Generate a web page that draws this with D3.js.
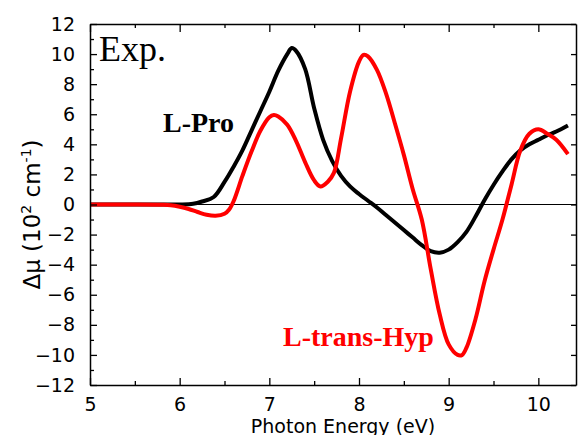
<!DOCTYPE html>
<html>
<head>
<meta charset="utf-8">
<script src="https://cdn.jsdelivr.net/npm/d3@7"></script>
<style>
  body { margin: 0; background: #fff; }
  #grafico { width: 578px; height: 435px; }
  .tick text { font-family: "DejaVu Sans", Verdana, sans-serif; }
</style>
</head>
<body>
<div id="grafico"></div>
<script>
// L-Pro (black) : photon energy (eV) / delta mu (10^2 cm^-1)
var proE = [5.0, 5.5, 6.0, 6.15, 6.25, 6.38, 6.5, 6.6, 6.7, 6.8, 6.9, 7.0, 7.1, 7.2, 7.25, 7.3, 7.4, 7.5, 7.6, 7.7, 7.8, 7.9, 8.0, 8.1, 8.2, 8.3, 8.4, 8.5, 8.6, 8.7, 8.8, 8.9, 9.0, 9.1, 9.2, 9.3, 9.4, 9.5, 9.6, 9.7, 9.8, 9.9, 10.0, 10.1, 10.2, 10.33];
var proMu = [0, 0, 0, 0.05, 0.2, 0.5, 1.5, 2.5, 3.6, 4.9, 6.2, 7.5, 8.9, 10.0, 10.4, 10.2, 9.0, 6.4, 4.3, 2.9, 1.9, 1.2, 0.7, 0.25, -0.2, -0.7, -1.2, -1.7, -2.2, -2.7, -3.1, -3.2, -3.0, -2.5, -1.8, -0.8, 0.3, 1.3, 2.2, 3.0, 3.6, 4.0, 4.3, 4.6, 4.85, 5.25];

// L-trans-Hyp (red)
var hypE = [5.0, 5.5, 5.8, 5.9, 6.0, 6.1, 6.2, 6.3, 6.4, 6.5, 6.55, 6.6, 6.7, 6.8, 6.9, 7.0, 7.05, 7.1, 7.2, 7.3, 7.4, 7.5, 7.57, 7.65, 7.72, 7.8, 7.9, 8.0, 8.05, 8.1, 8.2, 8.3, 8.4, 8.5, 8.6, 8.7, 8.8, 8.9, 9.0, 9.1, 9.15, 9.2, 9.3, 9.4, 9.5, 9.6, 9.7, 9.8, 9.9, 10.0, 10.1, 10.2, 10.33];
var hypMu = [0, 0, -0.02, -0.05, -0.15, -0.3, -0.5, -0.68, -0.75, -0.62, -0.35, 0.2, 1.9, 3.5, 4.9, 5.8, 5.95, 5.85, 5.3, 4.2, 2.8, 1.6, 1.2, 1.5, 2.1, 4.4, 7.5, 9.5, 9.95, 9.85, 8.95, 7.4, 5.4, 3.3, 1.0, -1.0, -4.3, -7.3, -9.3, -10.0, -10.0, -9.5, -7.6, -5.1, -3.0, -1.0, 1.3, 3.6, 4.7, 5.0, 4.7, 4.3, 3.35];

var xTicks = [5, 6, 7, 8, 9, 10];
var yTicks = [-12, -10, -8, -6, -4, -2, 0, 2, 4, 6, 8, 10, 12];

function monta_grafico() {
	var margin = {top: 24, right: 2, bottom: 50, left: 90},
		width = 578 - margin.left - margin.right,
		height = 435 - margin.top - margin.bottom;

	var svg = d3.select("#grafico").append("svg")
		.attr("width", 578)
		.attr("height", 435)
	  .append("g")
		.attr("transform", "translate(" + margin.left + "," + margin.top + ")");

	var x = d3.scaleLinear().domain([5, 10.42]).range([0, width]);
	var y = d3.scaleLinear().domain([-12, 12]).range([height, 0]);

	var line = d3.line()
		.x(function(d) { return x(d[0]); })
		.y(function(d) { return y(d[1]); })
		.curve(d3.curveCatmullRom);

	// zero line
	svg.append("line")
		.attr("x1", 0).attr("x2", width)
		.attr("y1", y(0)).attr("y2", y(0))
		.attr("stroke", "#000").attr("stroke-width", 1.2);

	var pro = proE.map(function(e, i) { return [e, proMu[i]]; });
	var hyp = hypE.map(function(e, i) { return [e, hypMu[i]]; });

	svg.append("path").datum(pro)
		.attr("fill", "none").attr("stroke", "#000").attr("stroke-width", 4)
		.attr("stroke-linejoin", "round")
		.attr("d", line);
	svg.append("path").datum(hyp)
		.attr("fill", "none").attr("stroke", "#ff0000").attr("stroke-width", 4)
		.attr("stroke-linejoin", "round")
		.attr("d", line);

	// minor ticks
	var xMinor = d3.range(5.5, 10.42, 1);
	var yMinor = d3.range(-11, 12, 2);

	// bottom axis
	svg.append("g")
		.attr("transform", "translate(0," + height + ")")
		.call(d3.axisBottom(x).tickValues(xTicks).tickSizeInner(-7).tickSizeOuter(0).tickPadding(13)
			.tickFormat(d3.format("d")))
		.call(function(g) { g.selectAll("text").style("font-size", "19px").attr("fill", "#000"); });
	svg.append("g")
		.attr("transform", "translate(0," + height + ")")
		.call(d3.axisBottom(x).tickValues(xMinor).tickSize(-4).tickFormat(""))
		.call(function(g) { g.select(".domain").remove(); });

	// top axis
	svg.append("g")
		.call(d3.axisTop(x).tickValues(xTicks).tickSizeInner(-8).tickSizeOuter(0).tickFormat(""));
	svg.append("g")
		.call(d3.axisTop(x).tickValues(xMinor).tickSize(-4).tickFormat(""))
		.call(function(g) { g.select(".domain").remove(); });

	// left axis
	svg.append("g")
		.call(d3.axisLeft(y).tickValues(yTicks).tickSizeInner(-7).tickSizeOuter(0).tickPadding(15))
		.call(function(g) { g.selectAll("text").style("font-size", "19px").attr("fill", "#000"); });
	svg.append("g")
		.call(d3.axisLeft(y).tickValues(yMinor).tickSize(-4).tickFormat(""))
		.call(function(g) { g.select(".domain").remove(); });

	// right axis
	svg.append("g")
		.attr("transform", "translate(" + width + ",0)")
		.call(d3.axisRight(y).tickValues(yTicks).tickSizeInner(-5).tickSizeOuter(0).tickFormat(""));

	svg.selectAll(".domain").attr("stroke-width", 1.5);
	svg.selectAll(".tick line").attr("stroke-width", 1.3);

	// labels
	svg.append("text")
		.attr("x", 9).attr("y", 37)
		.style("font-family", "'Liberation Serif', 'Times New Roman', serif")
		.style("font-size", "36px")
		.text("Exp.");

	svg.append("text")
		.attr("x", 73).attr("y", 108)
		.style("font-family", "'Liberation Serif', 'Times New Roman', serif")
		.style("font-size", "28px").style("font-weight", "bold")
		.text("L-Pro");

	svg.append("text")
		.attr("x", 193).attr("y", 322)
		.style("font-family", "'Liberation Serif', 'Times New Roman', serif")
		.style("font-size", "28px").style("font-weight", "bold")
		.attr("fill", "#ff0000")
		.text("L-trans-Hyp");

	// axis titles
	svg.append("text")
		.attr("x", 253).attr("y", height + 48)
		.attr("text-anchor", "middle")
		.style("font-family", "'DejaVu Sans', Verdana, sans-serif")
		.style("font-size", "19px")
		.text("Photon Energy (eV)");

	var yt = svg.append("text")
		.attr("transform", "translate(-50," + (height / 2 + 10) + ") rotate(-90)")
		.attr("text-anchor", "middle")
		.style("font-family", "'DejaVu Sans', Verdana, sans-serif")
		.style("font-size", "23px");
	yt.append("tspan").text("\u0394\u03bc (10");
	yt.append("tspan").attr("dy", -9).style("font-size", "14px").text("2");
	yt.append("tspan").attr("dy", 9).text(" cm");
	yt.append("tspan").attr("dy", -9).style("font-size", "14px").text("-1");
	yt.append("tspan").attr("dy", 9).text(")");
}

monta_grafico();
</script>
</body>
</html>
